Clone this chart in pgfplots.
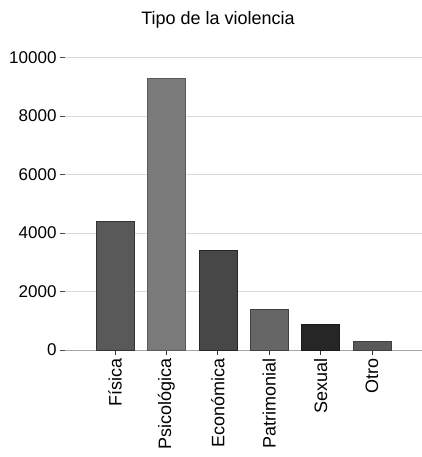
\documentclass[border=0pt]{standalone}
\usepackage{pgfplots}
\pgfplotsset{compat=1.18}
\usepackage{fontspec}
\setmainfont{Liberation Sans}
\begin{document}
\begin{tikzpicture}
\useasboundingbox (0,0) rectangle (422pt,457pt);
\begin{axis}[
  at={(65pt,107pt)}, anchor=south west,
  scale only axis, width=357pt, height=292.5pt,
  xmin=-0.973, xmax=5.973, ymin=0, ymax=10000,
  axis x line=bottom, axis y line=left,
  x axis line style={draw=gray!70, -}, y axis line style={draw=none},
  ytick={0,2000,4000,6000,8000,10000},
  scaled y ticks=false,
  xtick={0,1,2,3,4,5},
  xticklabels={Física,Psicológica,Económica,Patrimonial,Sexual,Otro},
  x tick label style={rotate=90, anchor=east, font=\fontsize{18}{20}\selectfont},
  y tick label style={font=\fontsize{17}{19}\selectfont},
  /pgf/number format/1000 sep={}, /pgf/number format/assume math mode=true,
  tick align=outside, major tick length=5pt,
  xtick style={draw=black!80, line width=0.8pt},
  ytick style={draw=black!70, line width=0.8pt},
  ymajorgrids, grid style={draw=black!15, line width=0.8pt},
  bar width=0.74, ybar, bar shift=0pt,
  clip=false,
]
\addplot[fill=black!65, draw=black!80] coordinates {(0,4410)};
\addplot[fill=black!52, draw=black!65] coordinates {(1,9300)};
\addplot[fill=black!72, draw=black!85] coordinates {(2,3420)};
\addplot[fill=black!60, draw=black!75] coordinates {(3,1400)};
\addplot[fill=black!85, draw=black!90] coordinates {(4,890)};
\addplot[fill=black!65, draw=black!75] coordinates {(5,300)};
\end{axis}
\node[font=\fontsize{18}{20}\selectfont] at (218pt,437pt) {Tipo de la violencia};
\end{tikzpicture}
\end{document}
